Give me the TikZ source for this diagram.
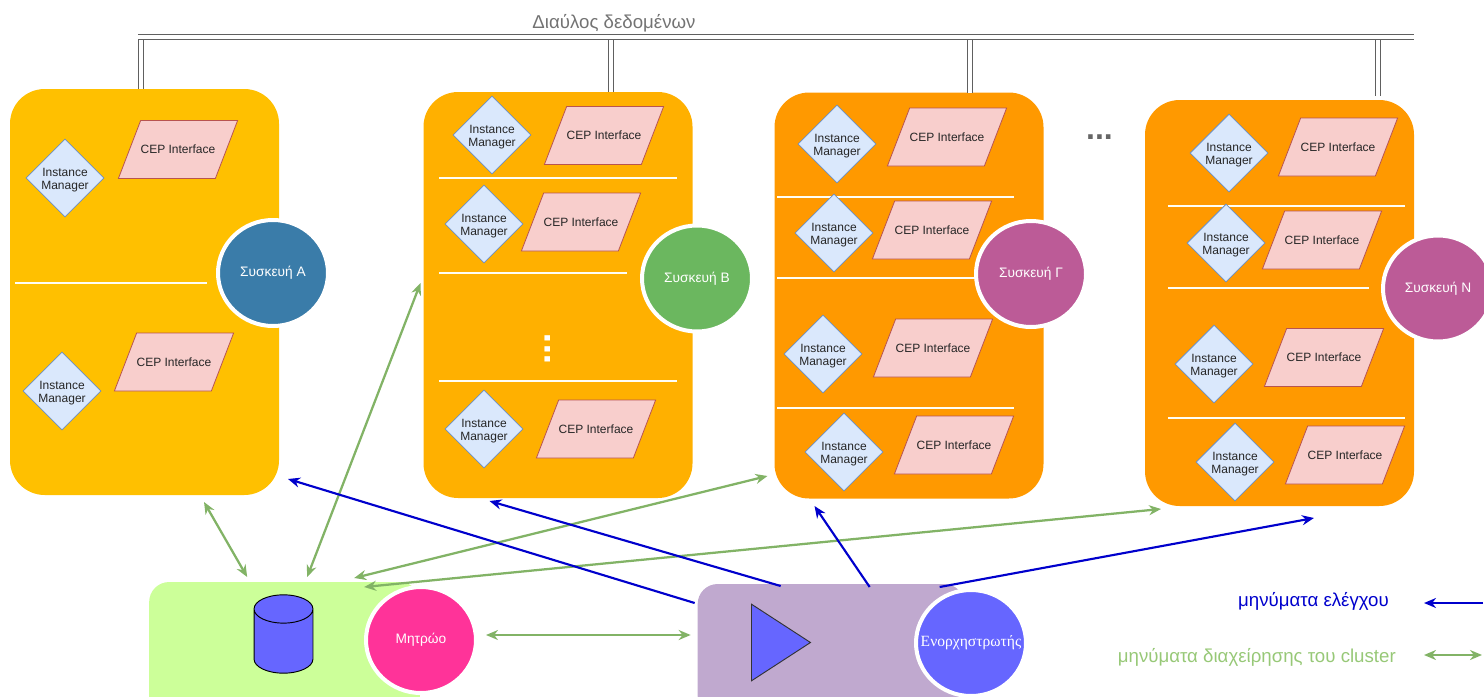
\documentclass[tikz,border=0pt]{standalone}
\usepackage{fontspec}
\setmainfont{Liberation Sans}
\newfontfamily\orchfont{Liberation Serif}
\usetikzlibrary{shapes.geometric,arrows.meta}

\definecolor{panelyellow}{HTML}{FFC000}
\definecolor{panelamber}{HTML}{FFB000}
\definecolor{panelorange}{HTML}{FF9900}
\definecolor{imfill}{HTML}{DAE8FC}
\definecolor{imline}{HTML}{6C8EBF}
\definecolor{cepfill}{HTML}{F8CECC}
\definecolor{cepline}{HTML}{B85450}
\definecolor{devblue}{HTML}{3A7CA9}
\definecolor{devgreen}{HTML}{6BB75F}
\definecolor{devpurple}{HTML}{BC5B97}
\definecolor{mgmtgreen}{HTML}{82B366}
\definecolor{legendgreen}{HTML}{97C877}
\definecolor{ctrlblue}{HTML}{0000CC}
\definecolor{regfill}{HTML}{CCFF99}
\definecolor{regpink}{HTML}{FF3399}
\definecolor{orchfill}{HTML}{C0A9CF}
\definecolor{violet6}{HTML}{6666FF}
\definecolor{busgray}{HTML}{606060}

\tikzset{
  panel/.style={rectangle,rounded corners=26pt,minimum width=201.75pt,minimum height=304.5pt,outer sep=0pt,inner sep=0pt},
  im/.style={diamond,draw=imline,fill=imfill,line width=0.6pt,minimum width=58.5pt,minimum height=58.5pt,inner sep=0pt,
    label={[font=\fontsize{9}{10.3}\selectfont,align=center,text=black!85,yshift=-1.5pt]center:Instance\\Manager}},
  cep/.style={trapezium,trapezium left angle=69,trapezium right angle=111,draw=cepline,fill=cepfill,line width=0.6pt,
    inner xsep=0pt,inner ysep=18.5pt,text height=6.5pt,text depth=0pt,font=\fontsize{9}{10}\selectfont,text=black!85},
  device/.style={ellipse,draw=white,line width=3pt,minimum width=82.5pt,minimum height=79.5pt,inner sep=0pt,
    text=white,font=\fontsize{10.3}{12}\selectfont},
  divider/.style={rectangle,fill=white!96!yellow,minimum height=1.5pt,inner sep=0pt,outer sep=0pt},
  bus/.style={draw=busgray,line width=1.3pt,double=white,double distance=2.4pt},
  mgmt/.style={draw=mgmtgreen,line width=1.7pt,{Stealth[length=9pt,width=7.5pt]}-{Stealth[length=9pt,width=7.5pt]}},
  ctrl/.style={draw=ctrlblue,line width=1.6pt,-{Stealth[length=9pt,width=7.5pt]}},
}

\begin{document}
\begin{tikzpicture}[x=0.75pt,y=0.75pt,yscale=-1,xscale=1]
\clip (0,0) rectangle (1484,696);

%Shape: Panels
\node (panelA) [panel,fill=panelyellow] at (144.5,292) {};
\node (panelB) [panel,fill=panelamber] at (558,295) {};
\node (panelG) [panel,fill=panelorange] at (909,295.5) {};
\node (panelN) [panel,fill=panelorange] at (1279.5,303) {};
\node (registry) [panel,fill=regfill,rounded corners=15pt,minimum width=203pt,minimum height=100.5pt] at (284.5,649) {};
\node (orch) [panel,fill=orchfill,rounded corners=15pt,minimum width=200pt,minimum height=99pt] at (831,650) {};

%Bus
\coordinate (busStart) at (138,37);
\coordinate (busEnd) at (1414,37);
\coordinate (tapA) at (141,37);
\coordinate (tapB) at (611,37);
\coordinate (tapG) at (970,37);
\coordinate (tapN) at (1378,37);
\draw [bus] (tapA) -- (tapA |- panelA.north);
\draw [bus] (tapB) -- (tapB |- panelB.north);
\draw [bus] (tapG) -- (tapG |- panelG.north);
\draw [bus] ([yshift=-2pt]tapN) -- ([yshift=-3pt]tapN |- panelN.north);
\draw [bus] (busStart) -- (busEnd);
% Text Node
\node (busLabel) [text=black!55,font=\fontsize{14}{16}\selectfont] at (614,23) {Διαύλος δεδομένων};

%Device A
\node (imA1) [im] at (65,178) {};
\node (cepA1) [cep] at (178,149.5) {CEP Interface};
\node (divA1) [divider,minimum width=144pt] at (111,283) {};
\node (imA2) [im] at (62,391) {};
\node (cepA2) [cep] at (174,362) {CEP Interface};
\node (devA) [device,fill=devblue] at (273,273) {Συσκευή A};

%Device B
\node (imB1) [im] at (492,135) {};
\node (cepB1) [cep] at (604,135.5) {CEP Interface};
\node (divB1) [divider,minimum width=178.5pt] at (558,178) {};
\node (imB2) [im] at (484,224) {};
\node (cepB2) [cep] at (581,222) {CEP Interface};
\node (divB2) [divider,minimum width=141pt] at (533,273) {};
\node (dotsB) [rotate=90,text=white,font=\fontsize{28}{28}\bfseries] at (548,349) {...};
\node (divB3) [divider,minimum width=178.5pt] at (558,381) {};
\node (imB3) [im] at (484,429) {};
\node (cepB3) [cep] at (596,429) {CEP Interface};
\node (devB) [device,fill=devgreen] at (697,278.5) {Συσκευή Β};

%Device G
\node (imG1) [im] at (837,144) {};
\node (cepG1) [cep] at (947,137) {CEP Interface};
\node (divG1) [divider,minimum width=178pt] at (895.5,197) {};
\node (imG2) [im] at (834,233) {};
\node (cepG2) [cep] at (932,230) {CEP Interface};
\node (divG2) [divider,minimum width=150pt] at (877,278) {};
\node (imG3) [im] at (823,354) {};
\node (cepG3) [cep] at (933,348) {CEP Interface};
\node (divG3) [divider,minimum width=178pt] at (895.5,408) {};
\node (imG4) [im] at (844,452) {};
\node (cepG4) [cep] at (954,445) {CEP Interface};
\node (devG) [device,fill=devpurple] at (1031,274) {Συσκευή Γ};

%Device N
\node (imN1) [im] at (1229,153) {};
\node (cepN1) [cep] at (1338,147) {CEP Interface};
\node (divN1) [divider,minimum width=178pt] at (1286.5,206) {};
\node (imN2) [im] at (1226,243) {};
\node (cepN2) [cep] at (1322,240) {CEP Interface};
\node (divN2) [divider,minimum width=151pt] at (1268.5,288) {};
\node (imN3) [im] at (1214,364) {};
\node (cepN3) [cep] at (1324,357.5) {CEP Interface};
\node (divN3) [divider,minimum width=178pt] at (1286.5,418) {};
\node (imN4) [im] at (1235,462) {};
\node (cepN4) [cep] at (1345,455) {CEP Interface};
\node (devN) [device,fill=devpurple] at (1438,288.5) {Συσκευή N};

% Text Node
\node (moreDots) [text=black!60,font=\fontsize{24}{24}\bfseries] at (1099.5,137) {...};

%Registry
\node (regDisk) [cylinder,shape border rotate=90,aspect=0.48,draw=black,fill=violet6,line width=0.7pt,inner xsep=22.1pt,inner ysep=18.6pt,outer sep=0pt,anchor=shape center] at (283.5,634) {};
\node (regCircle) [device,fill=regpink] at (421,640) {Μητρώο};

%Orchestrator
\node (orchTriangle) [isosceles triangle,isosceles triangle apex angle=66,draw=black!80,fill=violet6,line width=0.7pt,minimum height=44.25pt,inner sep=0pt,anchor=lower side] at (751,642.5) {};
\node (orchCircle) [device,fill=violet6,label={[text=white,font=\orchfont\fontsize{11.7}{14}\selectfont]center:Ενορχηστρωτής}] at (971,643) {};

%Straight Lines
\draw [mgmt] ([shift={(194,7)}]panelA.south west) -- ([shift={(98,-5)}]registry.north west);
\draw [mgmt] ([shift={(-3,-12)}]panelB.west) -- ([shift={(158,-5)}]registry.north west);
\draw [mgmt] ([shift={(-7,-22.5)}]panelG.south west) -- ([shift={(205,-4)}]registry.north west);
\draw [mgmt] ([shift={(16,3)}]panelN.south west) -- ([shift={(215,5)}]registry.north west);
\draw [mgmt,line width=2.2pt] ([shift={(8,-5)}]regCircle.east) -- ([shift={(-7,-15)}]orch.west);
\draw [ctrl] ([shift={(-3,19)}]orch.north west) -- ([shift={(9,-16)}]panelA.south east);
\draw [ctrl] ([shift={(83,2)}]orch.north west) -- ([shift={(66,3)}]panelB.south west);
\draw [ctrl] ([shift={(172,3)}]orch.north west) -- ([shift={(40,7.5)}]panelG.south west);
\draw [ctrl] ([shift={(242,3)}]orch.north west) -- ([shift={(169,12)}]panelN.south west);

%Legend
\node (legendCtrl) [anchor=east,inner sep=0pt,text=ctrlblue,font=\fontsize{14}{16}\selectfont] at (1389,601) {μηνύματα ελέγχου};
\node (legendMgmt) [anchor=east,inner sep=0pt,text=legendgreen,font=\fontsize{14}{16}\selectfont] at (1396,657) {μηνύματα διαχείρησης του cluster};
\coordinate (ctrlStart) at (1483,603);
\coordinate (ctrlEnd) at (1424,603);
\coordinate (mgmtStart) at (1424,655);
\coordinate (mgmtEnd) at (1482,655);
\draw [ctrl] (ctrlStart) -- (ctrlEnd);
\draw [mgmt] (mgmtStart) -- (mgmtEnd);
\end{tikzpicture}
\end{document}
